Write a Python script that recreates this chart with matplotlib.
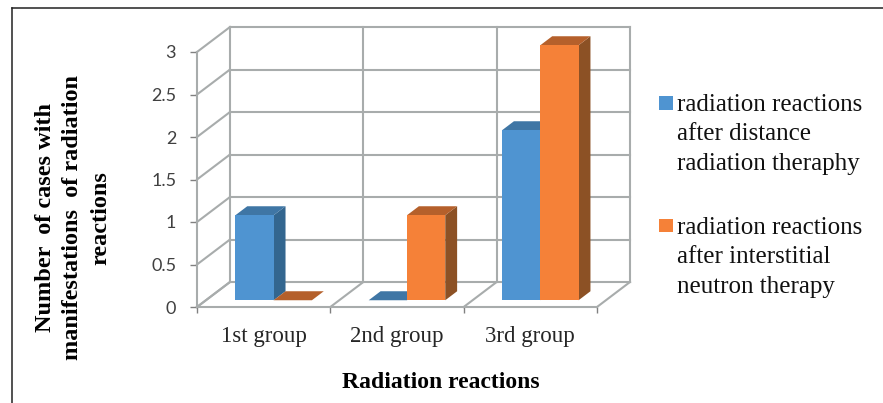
# Radiation reactions chart, drawn as a fake 3D column chart

import numpy as np
import matplotlib
matplotlib.use("Agg")
import matplotlib.pyplot as plt
from matplotlib.patches import Polygon, Rectangle

# Data
groups = ["1st group", "2nd group", "3rd group"]
distance_values = [1, 0, 2]
neutron_values = [0, 1, 3]
y_ticks = [0, 0.5, 1, 1.5, 2, 2.5, 3]
y_tick_labels = ["0", "0.5", "1", "1.5", "2", "2.5", "3"]

BLUE = ("#4F94D1", "#3F76A5", "#33668F")  # front, top, side
ORANGE = ("#F58138", "#B5602B", "#8C5125")
GRID = "#A8ACAC"

W, H = 883, 403
fig = plt.figure(figsize=(W / 100, H / 100), dpi=100)

# Front plane of the box, in pixels
left, right, top, bottom = 197, 597, 52, 307
ax = fig.add_axes([left / W, 1 - bottom / H, (right - left) / W, (bottom - top) / H])
ax.set_xlim(0, 3)
ax.set_ylim(0, 3)
ax.patch.set_visible(False)

# Depth axis: one unit of depth moves up and to the right
depth_x = 33 / ((right - left) / 3)
depth_y = 25 / ((bottom - top) / 3)


def proj(x, y, d=0.0):
    return (x + d * depth_x, y + d * depth_y)


def grid_line(p0, p1):
    ax.plot([p0[0], p1[0]], [p0[1], p1[1]], color=GRID, lw=1.5, zorder=1, clip_on=False)


# Walls and floor
for v in y_ticks:
    grid_line(proj(0, v, 0), proj(0, v, 1))
    grid_line(proj(0, v, 1), proj(3, v, 1))
for i in range(4):
    grid_line(proj(i, 0, 0), proj(i, 0, 1))
    grid_line(proj(i, 0, 1), proj(i, 3, 1))


def draw_bar(x0, x1, value, colors, z):
    d0, d1 = 0.27, 0.63
    if value > 0:
        ax.add_patch(Polygon([proj(x0, 0, d0), proj(x1, 0, d0), proj(x1, value, d0), proj(x0, value, d0)],
                             fc=colors[0], ec="none", zorder=z + 0.2, clip_on=False))
        ax.add_patch(Polygon([proj(x1, 0, d0), proj(x1, 0, d1), proj(x1, value, d1), proj(x1, value, d0)],
                             fc=colors[2], ec="none", zorder=z, clip_on=False))
    ax.add_patch(Polygon([proj(x0, value, d0), proj(x1, value, d0), proj(x1, value, d1), proj(x0, value, d1)],
                         fc=colors[1], ec="none", zorder=z + 0.1, clip_on=False))


bar_w = 0.287
for i in range(len(groups)):
    c = i + 0.508
    draw_bar(c - bar_w, c, distance_values[i], BLUE, 3)
    draw_bar(c, c + bar_w, neutron_values[i], ORANGE, 4)

# Axes
for s in ["top", "right"]:
    ax.spines[s].set_visible(False)
for s in ["left", "bottom"]:
    ax.spines[s].set_color(GRID)
    ax.spines[s].set_linewidth(1.5)
ax.set_yticks(y_ticks)
ax.set_yticklabels(y_tick_labels, fontfamily="Lato", fontsize=13, color="#404040")
ax.tick_params(axis="y", length=5, width=1, color="#808080", pad=10)
ax.set_xticks(range(4))
ax.set_xticklabels([])
ax.set_xticks([i + 0.5 for i in range(3)], minor=True)
ax.set_xticklabels(groups, minor=True, fontfamily="Liberation Serif", fontsize=16.5, color="#262626")
ax.tick_params(axis="x", which="major", length=4, width=1, color="#808080")
ax.tick_params(axis="x", which="minor", length=0, pad=14)

serif = "Liberation Serif"

# Axis titles
fig.text(441 / W, 1 - 382 / H, "Radiation reactions", family=serif, weight="bold", fontsize=17,
         ha="center", va="center", color="black")
fig.text(73 / W, 1 - 218 / H, "Number  of cases with\nmanifestations  of radiation\nreactions", family=serif,
         weight="bold", fontsize=17.5, rotation=90, ha="center", va="center", multialignment="center",
         linespacing=1.42, color="black")

# Legend
legend_items = [
    (BLUE[0], 96, ["radiation reactions", "after distance", "radiation theraphy"]),
    (ORANGE[0], 219, ["radiation reactions", "after interstitial", "neutron therapy"]),
]
for color, y_px, lines in legend_items:
    fig.add_artist(Rectangle((659 / W, 1 - (y_px + 13.5) / H), 13.5 / W, 13.5 / H, fc=color, ec="none",
                             transform=fig.transFigure))
    fig.text(677 / W, 1 - (y_px - 2) / H, "\n".join(lines), family=serif, fontsize=18, ha="left", va="top",
             linespacing=1.44, color="#111111")

# Image border
fig.add_artist(plt.Line2D([11.7 / W, 11.7 / W], [0, 1 - 7.5 / H], color="#222222", lw=1.1))
fig.add_artist(plt.Line2D([11.7 / W, 1], [1 - 7.5 / H, 1 - 7.5 / H], color="#222222", lw=1.1))

fig.savefig("out.png", dpi=100)
